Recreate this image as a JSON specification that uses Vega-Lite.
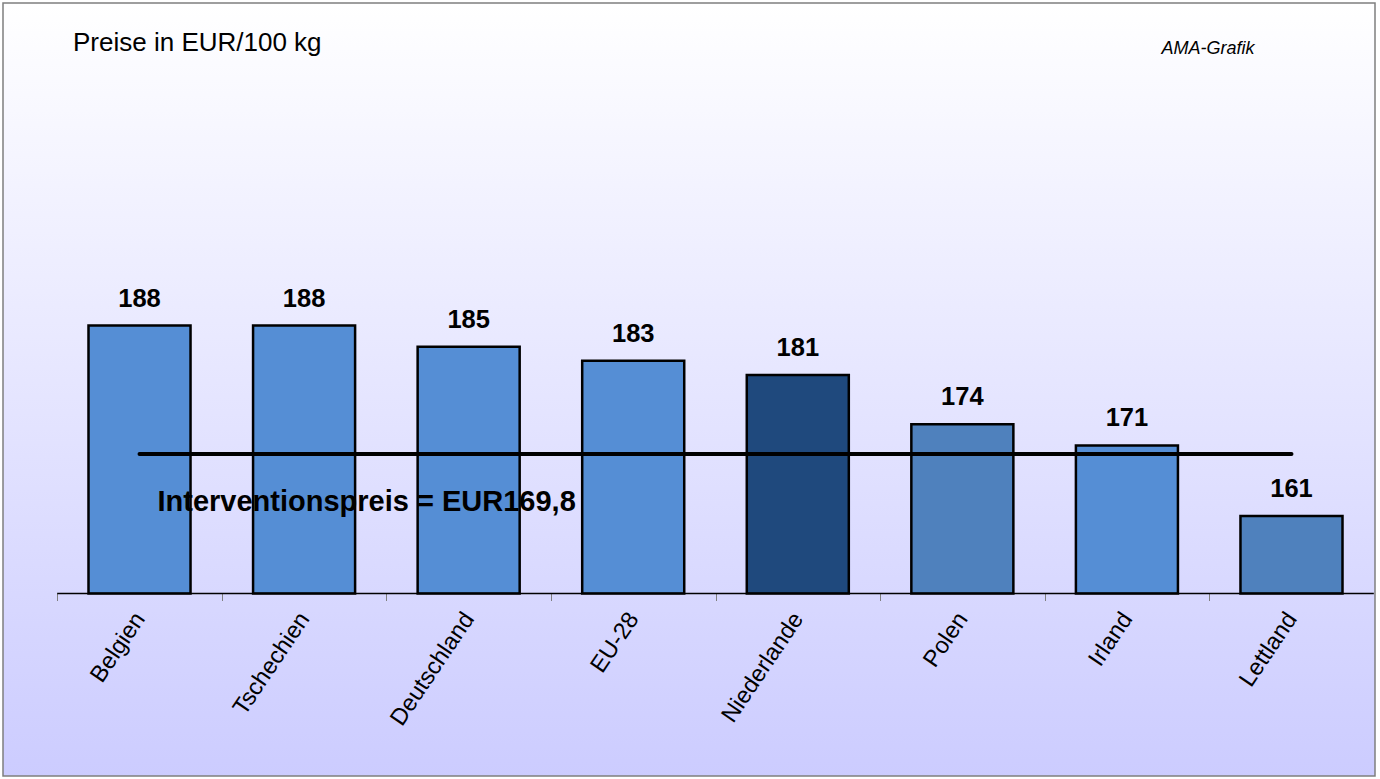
{
  "$schema": "https://vega.github.io/schema/vega-lite/v6.json",
  "width": 1372,
  "height": 773,
  "autosize": {"type": "none"},
  "padding": {"left": 3, "top": 3, "right": 5, "bottom": 3},
  "background": "#ffffff",
  "config": {
    "font": "Liberation Sans",
    "view": {
      "fill": {"gradient": "linear", "x1": 0, "y1": 0, "x2": 0, "y2": 1, "stops": [{"offset": 0, "color": "#ffffff"}, {"offset": 1, "color": "#ccccff"}]},
      "stroke": "#7f7f7f",
      "strokeWidth": 1.5
    }
  },
  "title": {
    "text": "Preise in EUR/100 kg",
    "anchor": "start",
    "frame": "group",
    "offset": 0,
    "dx": 70,
    "dy": 74,
    "baseline": "alphabetic",
    "fontSize": 26,
    "fontWeight": "normal",
    "color": "#000000",
    "font": "Liberation Sans"
  },
  "data": {
    "values": [
      {"land": "Belgien", "preis": 188},
      {"land": "Tschechien", "preis": 188},
      {"land": "Deutschland", "preis": 185},
      {"land": "EU-28", "preis": 183},
      {"land": "Niederlande", "preis": 181},
      {"land": "Polen", "preis": 174},
      {"land": "Irland", "preis": 171},
      {"land": "Lettland", "preis": 161}
    ]
  },
  "layer": [
    {
      "mark": {"type": "bar", "stroke": "#000000", "strokeWidth": 2.5},
      "encoding": {
        "x": {
          "field": "land",
          "type": "nominal",
          "sort": null,
          "scale": {"type": "band", "paddingInner": 0.38, "paddingOuter": 0.3585, "align": 0.7246},
          "axis": {
            "orient": "bottom",
            "offset": -182.5,
            "title": null,
            "domain": false,
            "tickOffset": -82.28,
            "labelOffset": 82.28,
            "tickSize": 7,
            "tickColor": "#808080",
            "tickWidth": 1,
            "labelAngle": -56,
            "labelAlign": "right",
            "labelBaseline": "middle",
            "labelFontSize": 23.5,
            "labelFont": "Liberation Sans",
            "labelColor": "#000000",
            "labelPadding": 14
          }
        },
        "y": {
          "field": "preis",
          "type": "quantitative",
          "scale": {"domain": [124.11, 233.76], "zero": false, "nice": false},
          "axis": {
            "orient": "right",
            "domain": false,
            "ticks": false,
            "labels": false,
            "grid": false,
            "title": "AMA-Grafik",
            "titleAngle": 0,
            "titleX": -214,
            "titleY": 50,
            "titleAlign": "left",
            "titleBaseline": "alphabetic",
            "titleFontStyle": "italic",
            "titleFontWeight": "normal",
            "titleFontSize": 18,
            "titleFont": "Liberation Sans",
            "titleColor": "#000000"
          }
        },
        "y2": {"datum": 150},
        "color": {
          "field": "land",
          "type": "nominal",
          "scale": {
            "domain": ["Belgien", "Tschechien", "Deutschland", "EU-28", "Niederlande", "Polen", "Irland", "Lettland"],
            "range": ["#558ed5", "#558ed5", "#558ed5", "#558ed5", "#1f497d", "#4f81bd", "#558ed5", "#4f81bd"]
          },
          "legend": null
        }
      }
    },
    {
      "data": {"values": [{}]},
      "mark": {"type": "rule", "stroke": "#000000", "strokeWidth": 1.3},
      "encoding": {
        "x": {"datum": "Belgien", "bandPosition": -0.307},
        "x2": {"datum": "Lettland", "bandPosition": 1.307},
        "y": {"datum": 150}
      }
    },
    {
      "mark": {"type": "text", "fontSize": 25.5, "fontWeight": "bold", "baseline": "alphabetic", "dy": -19, "color": "#000000"},
      "encoding": {
        "x": {"field": "land", "type": "nominal", "sort": null},
        "y": {"field": "preis", "type": "quantitative"},
        "text": {"field": "preis", "type": "quantitative"}
      }
    },
    {
      "data": {"values": [{}]},
      "mark": {"type": "rule", "stroke": "#000000", "strokeWidth": 4, "strokeCap": "round"},
      "encoding": {
        "x": {"datum": "Belgien"},
        "x2": {"datum": "Lettland"},
        "y": {"datum": 169.8}
      }
    },
    {
      "data": {"values": [{}]},
      "mark": {"type": "text", "text": "Interventionspreis = EUR169,8", "align": "left", "baseline": "alphabetic", "dx": 18, "dy": 57, "fontSize": 29, "fontWeight": "bold", "color": "#000000"},
      "encoding": {
        "x": {"datum": "Belgien"},
        "y": {"datum": 169.8}
      }
    }
  ]
}
